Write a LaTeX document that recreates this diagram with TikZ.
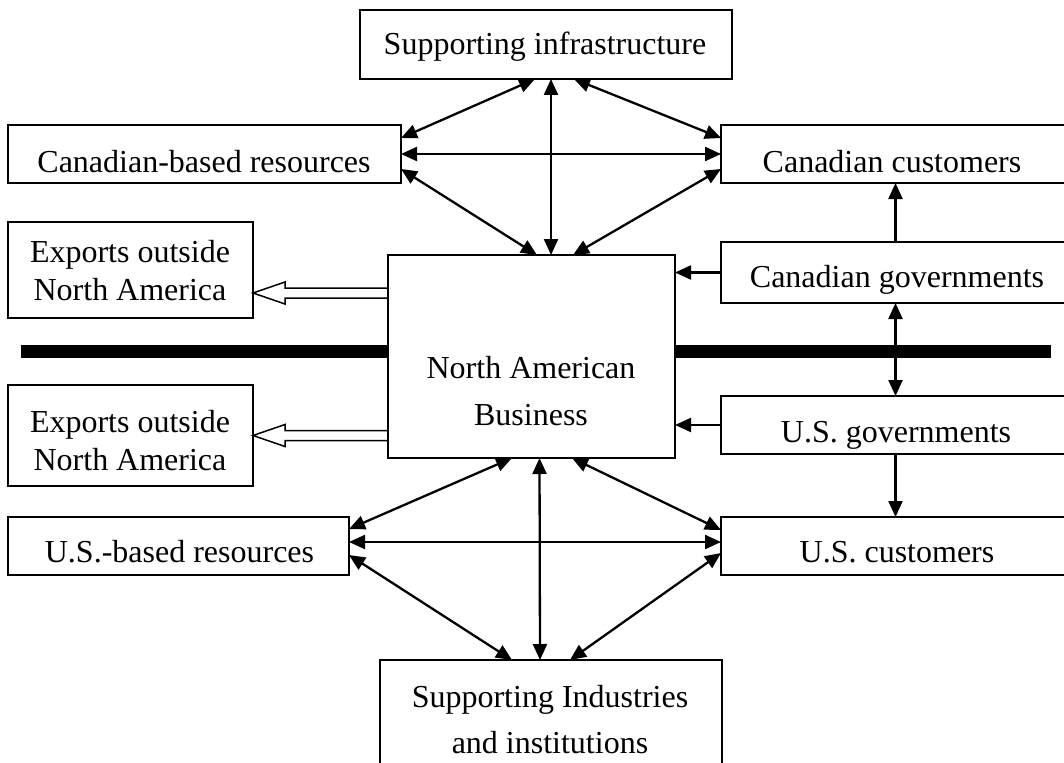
\documentclass[tikz,border=0pt]{standalone}
\usepackage{fontspec}
\setmainfont{Liberation Serif}
\usetikzlibrary{arrows.meta,calc}

\begin{document}
\begin{tikzpicture}[x=1pt,y=-1pt,
  box/.style={draw, line width=1.8pt, fill=white, inner sep=0pt, outer sep=0pt},
  txt/.style={font=\fontsize{32}{38}\selectfont, inner sep=0pt, align=center, anchor=base},
  tip/.tip={Triangle[length=16pt,width=14pt]},
  link/.style={line width=2.3pt, tip-tip},
  oneway/.style={line width=2.3pt, -tip},
  hollow/.style={line width=1.5pt, line join=miter},
  border/.style={line width=13pt}]

\useasboundingbox (0,0) rectangle (1064,762);
\clip (0,0) rectangle (1064,762);

% the border line between the two countries
\draw[border] (21,351.5) -- (1051,351.5);

% boxes
\node[box, minimum width=372, minimum height=69]  (supI)   at (546,44.5)   {};
\node[box, minimum width=393, minimum height=58]  (canR)   at (204.5,154)  {};
\node[box, minimum width=349, minimum height=58]  (canC)   at (895.5,154)  {};
\node[box, minimum width=245, minimum height=96]  (expU)   at (130.5,270)  {};
\node[box, minimum width=287, minimum height=203] (nab)    at (531.5,356.5){};
\node[box, minimum width=349, minimum height=61]  (canG)   at (895.5,272.5){};
\node[box, minimum width=245, minimum height=101] (expL)   at (130.5,435.5){};
\node[box, minimum width=349, minimum height=58]  (usG)    at (895.5,425)  {};
\node[box, minimum width=341, minimum height=58]  (usR)    at (178.5,546)  {};
\node[box, minimum width=349, minimum height=58]  (usC)    at (895.5,546)  {};
\node[box, minimum width=342, minimum height=140] (supInd) at (551,730)    {};

% labels (anchored at the baseline of the last line)
\node[txt] (supI-t)   at (545,55)    {Supporting infrastructure};
\node[txt] (canR-t)   at (204,172)   {Canadian-based resources};
\node[txt] (canC-t)   at (892,172)   {Canadian customers};
\node[txt] (expU-t)   at (130,300)   {Exports outside\\North America};
\node[txt, font=\fontsize{32}{47}\selectfont] (nab-t) at (531,425) {North American\\Business};
\node[txt] (canG-t)   at (897,287)   {Canadian governments};
\node[txt] (expL-t)   at (130,470)   {Exports outside\\North America};
\node[txt] (usG-t)    at (896,442)   {U.S. governments};
\node[txt] (usR-t)    at (179.5,562) {U.S.-based resources};
\node[txt] (usC-t)    at (897,562)   {U.S. customers};
\node[txt, font=\fontsize{32}{46}\selectfont] (supInd-t) at (550,753) {Supporting Industries\\and institutions};

% upper cluster
\draw[link] ($(supI.south)+(-11,0)$) -- ($(canR.east)+(0,-16)$);
\draw[link] ($(supI.south)+(5,0)$)   -- ($(nab.north)+(19.5,0)$);
\draw[link] ($(supI.south)+(28,0)$)  -- ($(canC.west)+(0,-16)$);
\draw[link] (canR.east) -- (canC.west);
\draw[link] ($(canR.east)+(0,15)$) -- ($(nab.north)+(5.5,0)$);
\draw[link] ($(canC.west)+(0,15)$) -- ($(nab.north)+(41.5,0)$);

% lower cluster
\draw[link] ($(nab.south)+(-19.5,0)$) -- ($(usR.east)+(0,-17)$);
\draw[link] ($(nab.south)+(8,0)$)     -- ($(supInd.north)+(-11,0)$);
\draw[link] ($(nab.south)+(40.5,0)$)  -- ($(usC.west)+(0,-16)$);
\draw[link] ($(usR.east)+(0,-4)$) -- ($(usC.west)+(0,-4)$);
\draw[link] ($(usR.east)+(0,9)$)  -- ($(supInd.north)+(-39,0)$);
\draw[link] ($(usC.west)+(0,7)$)  -- ($(supInd.north)+(19,0)$);

% governments
\draw[oneway] (canG.north) -- (canC.south);
\draw[link]   (canG.south) -- (usG.north);
\draw[oneway] (usG.south)  -- (usC.north);
\draw[oneway] (canG.west) -- (canG.west -| nab.east);
\draw[oneway] (usG.west)  -- (usG.west -| nab.east);

% exports (hollow double-shaft arrows)
\coordinate (tipU) at ($(expU.east)+(0,23)$);
\coordinate (tipL) at (expL.east);
\draw[hollow] ($(nab.west|-tipU)+(0,-5)$) -- ($(tipU)+(32,-5)$) -- ($(tipU)+(32,-11)$)
  -- (tipU) -- ($(tipU)+(32,11)$) -- ($(tipU)+(32,5)$) -- ($(nab.west|-tipU)+(0,5)$);
\draw[hollow] ($(nab.west|-tipL)+(0,-5)$) -- ($(tipL)+(32,-5)$) -- ($(tipL)+(32,-11)$)
  -- (tipL) -- ($(tipL)+(32,11)$) -- ($(tipL)+(32,5)$) -- ($(nab.west|-tipL)+(0,5)$);
\end{tikzpicture}
\end{document}
